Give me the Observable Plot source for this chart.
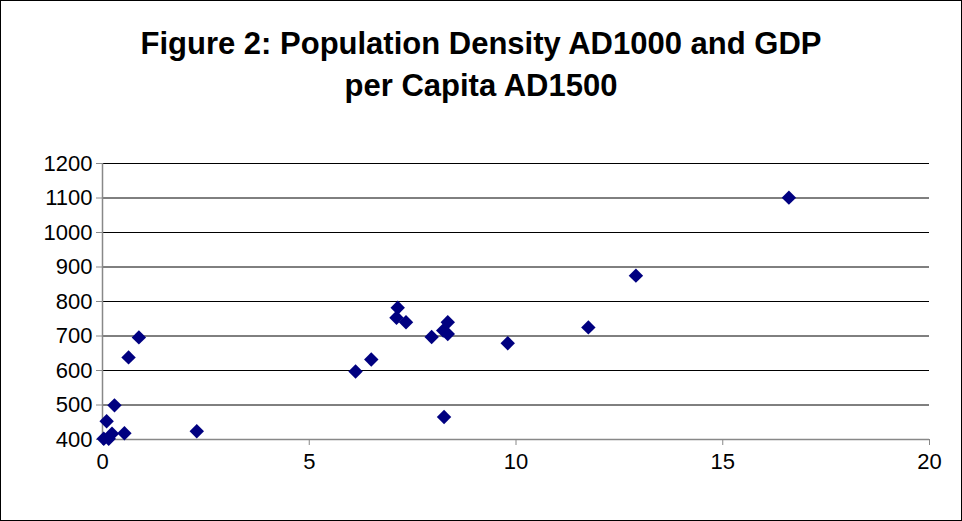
<!DOCTYPE html>
<html><head><meta charset="utf-8">
<script src="https://cdn.jsdelivr.net/npm/d3@7"></script>
<script src="https://cdn.jsdelivr.net/npm/@observablehq/plot@0.6"></script>
<style>
body{margin:0;background:#fff;font-family:"Liberation Sans",Arial,sans-serif}
#box{width:960px;height:519px;border:1px solid #000;position:relative;overflow:hidden}
#title{position:absolute;top:22px;left:0;width:960px;text-align:center;font-weight:bold;font-size:31px;line-height:42px}
#chart{position:absolute;top:144px;left:0}
</style></head><body>
<div id="box"><div id="title">Figure 2: Population Density AD1000 and GDP<br>per Capita AD1500</div><div id="chart"></div></div>
<script>
const density = [0.88,0.63,0.29,0.1,0.23,0.03,0.15,0.53,2.28,6.12,6.5,7.14,7.11,7.34,7.96,8.35,8.24,8.35,8.26,9.8,11.75,12.9,16.6]
const gdp = [696,638,499,453,417,402,402,418,424,597,632,782,753,740,697,740,716,706,465,679,725,875,1101]
const yTicks = [400,500,600,700,800,900,1000,1100,1200]
const xTicks = [0,5,10,15,20]
const data = density.map((d,i) => ({x:d, y:gdp[i]}))

let chart = Plot.plot({
  width: 960, height: 374,
  marginLeft: 101, marginRight: 32, marginTop: 18, marginBottom: 80,
  style: {fontFamily: "Liberation Sans, Arial, sans-serif", fontSize: "22px", color: "#000", background: "#fff"},
  x: {domain: [0,20], ticks: xTicks, tickSize: 6, label: null},
  y: {domain: [400,1200], ticks: yTicks, tickSize: 6, label: null},
  marks: [
    Plot.ruleY(yTicks, {stroke: "#000", strokeWidth: 1}),
    Plot.ruleX([0], {stroke: "#888", strokeWidth: 1.5}),
    Plot.ruleY([400], {stroke: "#888", strokeWidth: 1.5}),
    Plot.axisX({ticks: xTicks, tickSize: 6, tickPadding: 8, stroke: "#888", fontSize: 22}),
    Plot.axisY({ticks: yTicks, tickSize: 6, tickPadding: 4, stroke: "#888", fontSize: 22, tickFormat: d => String(d)}),
    Plot.dot(data, {x: "x", y: "y", symbol: "diamond2", r: 6.5, fill: "#000080", stroke: "none"})
  ]
})
d3.select('#chart').append(() => chart)
</script></body></html>
